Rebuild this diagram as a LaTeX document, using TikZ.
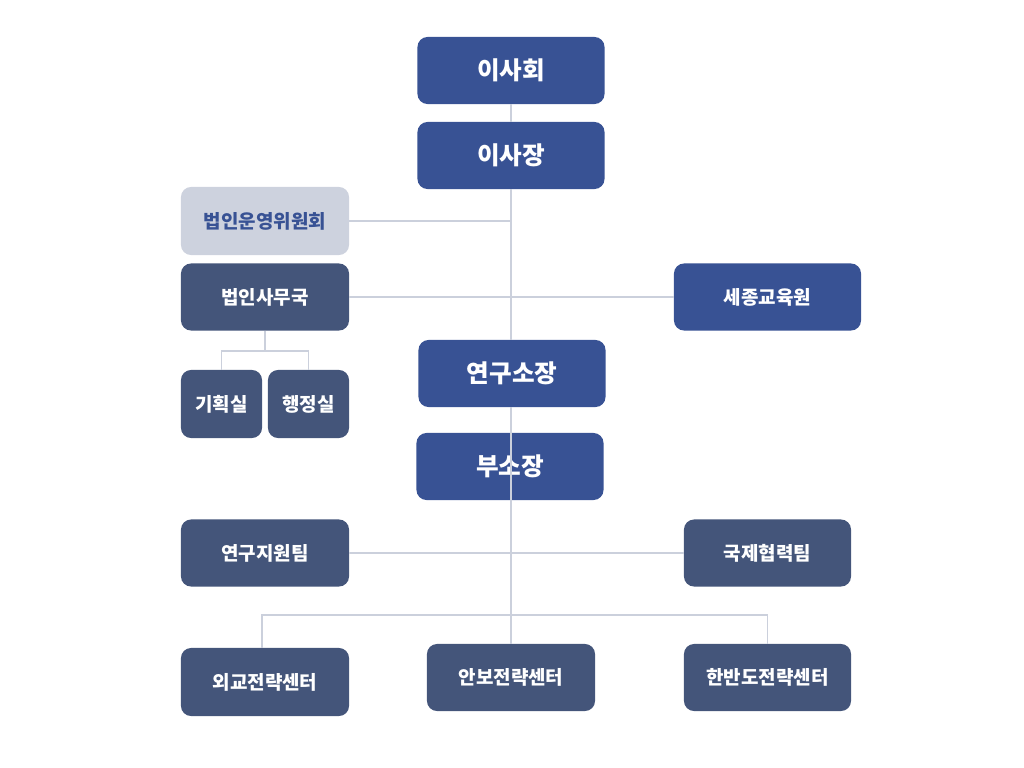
\documentclass[tikz,border=0pt]{standalone}
\usepackage{fontspec}
\setmainfont{Noto Sans CJK KR}
\definecolor{boardblue}{HTML}{385294}
\definecolor{officeslate}{HTML}{44557A}
\definecolor{paleblue}{HTML}{CDD2DE}
\definecolor{linkgray}{HTML}{CBD0DC}
\begin{document}
\begin{tikzpicture}[x=0.025cm,y=-0.025cm]
    \tikzset{org box/.style={rounded corners=0.25cm,minimum height=1.675cm,text=white,font=\bfseries,fill=#1},
             big/.style={minimum width=4.675cm,font=\bfseries\fontsize{17.5}{20}\selectfont},
             small/.style={minimum width=4.2cm,font=\bfseries\fontsize{13.5}{16}\selectfont},
             link/.style={draw=linkgray,line width=1.4pt}}

    \useasboundingbox (0,0) rectangle (1024,768);

    \coordinate (bar) at (511,615);

    \node [org box=boardblue,big] (board) at (511,70.5) {이사회};
    \node [org box=boardblue,big] (chair) at (511,155.5) {이사장};
    \node [org box=paleblue,small,text=boardblue,minimum height=1.7cm] (committee) at (265,221) {법인운영위원회};
    \node [org box=officeslate,small] (secretariat) at (265,297) {법인사무국};
    \node [org box=boardblue,small,minimum width=4.675cm] (sejong) at (767.5,297) {세종교육원};
    \node [org box=boardblue,big] (director) at (512,373.5) {연구소장};
    \node [org box=officeslate,small,minimum width=2.025cm,minimum height=1.7cm] (planning) at (221.5,404) {기획실};
    \node [org box=officeslate,small,minimum width=2.025cm,minimum height=1.7cm] (admin) at (308.5,404) {행정실};
    \node [org box=boardblue,big] (vicedir) at (510,466.5) {부소장};
    \node [org box=officeslate,small] (support) at (265,553) {연구지원팀};
    \node [org box=officeslate,small,minimum width=4.175cm] (intl) at (767.5,553) {국제협력팀};
    \node [org box=officeslate,small,minimum height=1.7cm] (diplo) at (265,682) {외교전략센터};
    \node [org box=officeslate,small] (security) at (511,677.5) {안보전략센터};
    \node [org box=officeslate,small,minimum width=4.175cm] (korea) at (767.5,677.5) {한반도전략센터};

    \draw [link] (board) -- (chair);
    \draw [link] (chair.south -| bar) -- (director.north -| bar);
    \draw [link] (committee) -- (committee -| bar);
    \draw [link] (secretariat) -- (sejong);
    \draw [link] (secretariat.south) -- ++(0,20) coordinate (split);
    \draw [link] (planning.north) |- (split) -| (admin.north);
    \draw [link] (director.south -| bar) -- (vicedir.south -| bar);
    \draw [link] (support) -- (intl);
    \draw [link] (vicedir.south -| bar) -- (security.north);
    \draw [link] ([xshift=-0.075cm]diplo.north) |- (bar) -| (korea.north);
\end{tikzpicture}
\end{document}
